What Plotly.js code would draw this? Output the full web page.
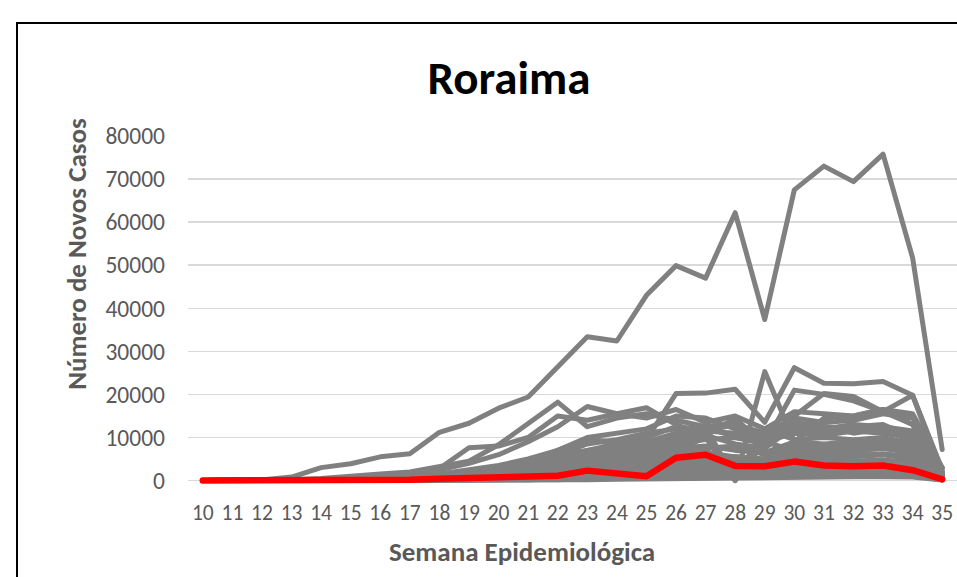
<!DOCTYPE html>
<html>
<head>
<meta charset="utf-8">
<script src="https://cdn.plot.ly/plotly-3.0.1.min.js"></script>
<style>
  html, body { margin: 0; padding: 0; width: 957px; height: 577px; overflow: hidden; background: #fff; }
  #chart { position: absolute; left: 0; top: 0; width: 957px; height: 577px; }
  #frame { position: absolute; left: 16px; top: 22px; width: 1000px; height: 700px; border: 2px solid #000; pointer-events: none; }
  .scatterlayer path.js-line { stroke-linejoin: round; stroke-linecap: round; }
</style>
</head>
<body>
<div id="chart"></div>
<div id="frame"></div>
<script>
// Semana epidemiológica
const weeks = [10,11,12,13,14,15,16,17,18,19,20,21,22,23,24,25,26,27,28,29,30,31,32,33,34,35];

// Roraima (linha vermelha)
const roraima = [0,0,0,50,100,100,150,200,400,600,500,800,1100,2300,1800,1000,5300,6000,3400,3300,4400,3500,3300,3500,2400,300];

// Demais estados (linhas cinzas)
const s01 = [0,0,100,800,3000,3900,5500,6200,11200,13300,16800,19400,26500,33400,32400,43000,49900,47000,62200,37400,67500,73000,69400,75800,51700,7200];
const s02 = [0,0,0,50,150,300,600,900,1500,2500,3500,5000,7000,9500,9000,9500,20200,20300,21200,13500,26200,22600,22500,23000,19800,2500];
const s03 = [0,0,50,200,500,900,1500,2000,3200,4500,8300,13400,18200,12500,14500,15500,14000,12500,13500,9500,12000,11000,12500,13000,10000,1500];
const s04 = [0,0,0,100,300,600,900,1400,2500,4000,6000,9000,12500,17200,15500,16900,13000,10500,14500,8000,13500,12500,11000,12000,9000,1500];
const s05 = [0,0,0,50,100,200,400,600,1000,1500,2500,4000,6000,8500,9500,11000,12000,12500,0,25300,9000,14500,15000,16500,13000,3000];
const s06 = [0,0,0,0,50,100,200,400,700,1200,2000,3000,5000,7000,8000,9000,11000,12500,10000,8500,21000,20000,18500,16000,13000,2000];
const s07 = [0,0,0,0,50,100,200,300,500,900,1500,2500,4000,6000,7500,9000,10000,11500,11000,9500,15000,20200,19500,16000,19800,1500];
const s08 = [0,0,0,0,100,200,300,500,900,1500,2500,4000,6500,9500,8500,10000,12500,11500,13000,11000,14500,13500,14000,15500,14500,2000];
const s09 = [0,0,0,50,100,200,400,700,1200,2000,3000,4500,6000,7000,8500,8000,9500,10500,8500,7500,12500,12000,13000,12500,11500,1500];
const s10 = [0,0,0,0,50,100,200,300,600,1000,1800,3000,4500,6000,7000,7500,8500,9500,10000,9000,11000,10500,11500,11000,10000,1200];
const s11 = [0,0,0,0,50,100,150,300,500,900,1500,2500,3500,5000,6000,6500,7500,8000,7000,6500,9000,8500,9000,9500,8000,1000];
const s12 = [0,0,0,0,0,50,100,200,400,700,1200,2000,3000,4000,5000,5500,6500,7500,8000,6000,8000,7500,8000,8500,7000,800];
const s13 = [0,0,0,0,0,50,100,200,300,600,1000,1800,2500,3500,4500,5000,6000,6500,5500,5000,7000,6500,7000,7500,6500,700];
const s14 = [0,0,0,0,50,100,200,300,500,800,1300,2000,3000,4000,5000,6000,7000,10000,500,12000,9500,10000,9500,10000,8500,1500];
const s15 = [0,0,0,0,0,0,50,100,200,400,700,1200,2000,3000,3500,4000,4500,5000,5000,4500,5500,5000,5500,6000,5000,600];
const s16 = [0,0,0,0,0,0,50,100,200,300,500,900,1500,2200,2800,3200,3800,4200,4000,3800,4500,4200,4500,4800,4200,500];
const s17 = [0,0,0,0,0,0,0,50,100,200,400,700,1100,1500,2000,2400,2800,3200,3000,2800,3500,3300,3500,3700,3200,400];
const s18 = [0,0,0,0,0,0,0,0,50,100,200,400,700,1000,1300,1600,2000,2300,2200,2000,2500,2300,2500,2600,2300,300];
const s19 = [0,0,0,0,0,0,0,0,0,50,100,200,400,600,800,1000,1300,1500,1500,1400,1700,1600,1800,1700,1500,200];
const s20 = [0,0,0,0,0,0,0,0,0,0,50,100,200,400,600,800,1000,1200,1300,1200,1400,1300,1500,1400,1300,150];
const s21 = [0,0,0,100,300,700,1200,1800,2800,7600,8000,10000,15000,14000,15500,14500,16500,13500,15000,12000,16000,15500,15000,16500,15500,3000];
const s22 = [0,0,0,0,100,200,400,600,1000,1800,3000,4500,7000,10000,11000,12000,15000,14500,12000,10000,13000,12500,12000,12500,11000,1800];
const s23 = [0,0,0,0,0,50,100,200,400,700,1100,1700,2500,3500,4500,5500,6500,7500,0,9000,7000,7500,7000,7500,6500,900];
const s24 = [0,0,0,0,0,0,0,0,0,0,0,50,100,200,300,400,500,600,700,700,800,800,900,900,800,100];
const s25 = [0,0,0,0,0,0,0,0,0,50,100,200,300,500,700,900,1100,1300,1200,1000,1300,1200,1300,1200,1100,150];
const s26 = [0,0,0,0,0,50,100,200,300,500,900,1500,2200,3000,3800,4500,5200,5800,5500,5000,6000,5500,6000,6200,5500,700];

const outros = [s01,s02,s03,s04,s05,s06,s07,s08,s09,s10,s11,s12,s13,s14,s15,s16,s17,s18,s19,s20,s21,s22,s23,s24,s25,s26];

const yTicks = [0,10000,20000,30000,40000,50000,60000,70000,80000];

const FONT = 'Carlito, Calibri, Lato, sans-serif';
const GRAY = '#808080';

const traces = outros.map((s, i) => ({
  x: weeks, y: s, type: 'scatter', mode: 'lines',
  line: { color: GRAY, width: 5 },
  hoverinfo: 'skip', name: 'Estado ' + (i + 1)
}));
traces.push({
  x: weeks, y: roraima, type: 'scatter', mode: 'lines',
  line: { color: '#ff0000', width: 6.5 }, name: 'Roraima'
});

const layout = {
  width: 957, height: 577,
  margin: { l: 188, r: 0, t: 136, b: 89.5, pad: 0 },
  paper_bgcolor: '#ffffff', plot_bgcolor: '#ffffff',
  showlegend: false,
  title: {
    text: '<b>Roraima</b>',
    font: { family: FONT, size: 47, color: '#000000' },
    x: 509 / 957, xanchor: 'center', xref: 'container',
    y: 1 - 78 / 577, yanchor: 'middle', yref: 'container'
  },
  xaxis: {
    range: [9.5, 35.5],
    tickmode: 'array', tickvals: weeks, ticktext: weeks.map(String),
    showgrid: false, zeroline: false, showline: false, ticks: '',
    tickfont: { family: FONT, size: 21.5, color: '#595959' },
    ticklabelstandoff: 10,
    fixedrange: true
  },
  yaxis: {
    range: [-1500, 80000],
    tickmode: 'array', tickvals: yTicks, ticktext: yTicks.map(String),
    showgrid: true, gridcolor: '#d9d9d9', gridwidth: 1.5,
    zeroline: false, showline: false, ticks: '',
    tickfont: { family: FONT, size: 23.5, color: '#595959' },
    ticklabelstandoff: 22,
    fixedrange: true
  },
  annotations: [
    {
      text: '<b>Número de Novos Casos</b>', textangle: -90,
      xref: 'paper', yref: 'paper', showarrow: false,
      x: (77 - 188) / 769, y: (487.5 - 254) / 351.5,
      xanchor: 'center', yanchor: 'middle',
      font: { family: FONT, size: 27, color: '#595959' }
    },
    {
      text: '<b>Semana Epidemiológica</b>',
      xref: 'paper', yref: 'paper', showarrow: false,
      x: (522 - 188) / 769, y: (487.5 - 552) / 351.5,
      xanchor: 'center', yanchor: 'middle',
      font: { family: FONT, size: 27, color: '#595959' }
    }
  ]
};

Plotly.newPlot('chart', traces, layout, { displayModeBar: false, staticPlot: true });
</script>
</body>
</html>
